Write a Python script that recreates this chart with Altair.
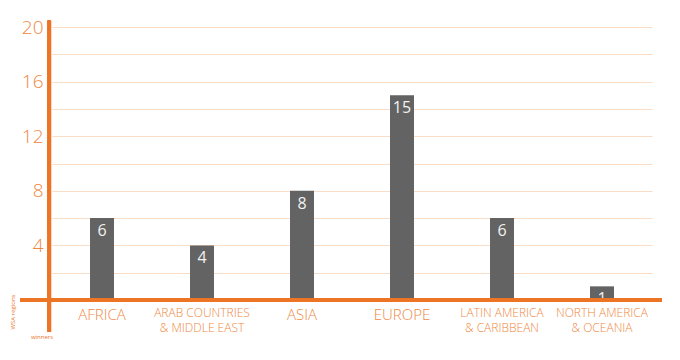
import altair as alt
import pandas as pd

categories = ["AFRICA", "ARAB COUNTRIES & MIDDLE EAST", "ASIA", "EUROPE",
              "LATIN AMERICA & CARIBBEAN", "NORTH AMERICA & OCEANIA"]
winners = [6, 4, 8, 15, 6, 1]
y_ticks = list(range(0, 21, 2))

df = pd.DataFrame({"region": categories, "winners": winners})

ORANGE = "#EC7424"
LABEL = "#F0883F"
GRID = "#FBDCC4"
BAR = "#636363"
FONT = "Open Sans"

label_expr = ("indexof(datum.label,' & ')>=0 ? "
              "[slice(datum.label,0,indexof(datum.label,' & ')), "
              "slice(datum.label,indexof(datum.label,' & ')+1)] : datum.label")

x_enc = alt.X("region:N", sort=categories, title=None,
              scale=alt.Scale(paddingInner=0, paddingOuter=0),
              axis=alt.Axis(labelExpr=label_expr, labelAngle=0, domain=False,
                            ticks=False, labelPadding=7, labelColor=LABEL,
                            labelFont=FONT, labelFontWeight=300,
                            labelFontSize={"condition": {"test": "indexof(datum.value,' & ')>=0", "value": 12}, "value": 15},
                            labelLineHeight=15, labelBaseline="top"))
y_enc = alt.Y("winners:Q", title=None,
              scale=alt.Scale(domain=[0, 20], nice=False),
              axis=alt.Axis(values=y_ticks, grid=True, gridColor=GRID, gridWidth=1,
                            gridOpacity=1, domain=False, ticks=False, labelPadding=9,
                            labelExpr="datum.value % 4 == 0 && datum.value > 0 ? datum.label : ''",
                            labelFontSize=19, labelColor=LABEL, labelFont=FONT,
                            labelFontWeight=300))

base = alt.Chart(df)
bars = base.mark_bar(color=BAR, width=24).encode(x=x_enc, y=y_enc)
values = base.mark_text(color="#F2F2F2", fontSize=16, font=FONT, baseline="middle", dy=13).encode(
    x=x_enc, y=y_enc, text="winners:Q")

hline = base.mark_rule(color=ORANGE, strokeWidth=3).encode(
    x=alt.value(-32), x2=alt.value(610), y=alt.value(273))
vline = base.mark_rule(color=ORANGE, strokeWidth=3.5).encode(
    x=alt.value(-2.7), y=alt.value(-6.5), y2=alt.value(305))

t1 = alt.Chart(pd.DataFrame({"t": ["WSA regions"]})).mark_text(
    color=ORANGE, fontSize=6, angle=270, font=FONT).encode(
    text="t:N", x=alt.value(-39), y=alt.value(285))
t2 = alt.Chart(pd.DataFrame({"t": ["winners"]})).mark_text(
    color=ORANGE, fontSize=6, font=FONT).encode(
    text="t:N", x=alt.value(-10), y=alt.value(310))

chart = alt.layer(bars, values, hline, vline, t1, t2).properties(
    width=600, height=273,
    autosize=alt.AutoSizeParams(type="none"),
    padding={"left": 44, "top": 19, "right": 20, "bottom": 40},
).configure(font=FONT).configure_view(stroke=None).configure_axis(gridColor=GRID)

chart.save("out.html", embed_options={"renderer": "svg", "actions": False})
